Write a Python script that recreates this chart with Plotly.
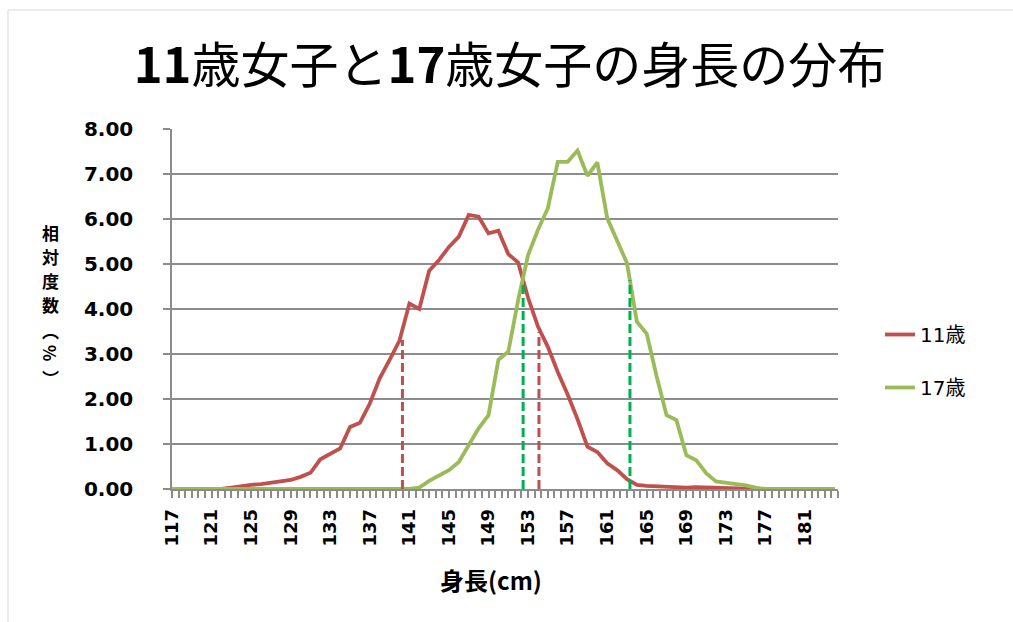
import plotly.graph_objects as go

# Height classes (cm) and relative frequency (%) for each age group
heights = list(range(117, 185))

girls_11 = [
    0, 0, 0, 0, 0, 0, 0.03, 0.07, 0.09, 0.11,          # 117-126
    0.14, 0.16, 0.20, 0.27, 0.36, 0.66, 0.78, 0.90, 1.38, 1.47,  # 127-136
    1.90, 2.46, 2.87, 3.30, 4.12, 4.00, 4.85, 5.09, 5.38, 5.61,  # 137-146
    6.09, 6.05, 5.68, 5.74, 5.22, 5.03, 4.25, 3.61, 3.16, 2.60,  # 147-156
    2.10, 1.55, 0.94, 0.82, 0.57, 0.42, 0.22, 0.09, 0.07, 0.06,  # 157-166
    0.03, 0.04, 0.03, 0.04, 0.03, 0.02, 0.02, 0.01, 0.01, 0,     # 167-176
    0, 0, 0, 0, 0, 0, 0, 0,                                       # 177-184
]

girls_17 = [
    0, 0, 0, 0, 0, 0, 0, 0, 0, 0,                       # 117-126
    0, 0, 0, 0, 0, 0, 0, 0, 0, 0,                       # 127-136
    0, 0, 0, 0, 0, 0.03, 0.18, 0.30, 0.42, 0.60,        # 137-146
    0.98, 1.35, 1.64, 2.87, 3.05, 4.20, 5.20, 5.76, 6.24, 7.27,  # 147-156
    7.27, 7.52, 6.96, 7.26, 6.02, 5.53, 5.02, 3.72, 3.45, 2.50,  # 157-166
    1.64, 1.53, 0.75, 0.64, 0.35, 0.17, 0.14, 0.12, 0.08, 0.03,  # 167-176
    0, 0, 0, 0, 0, 0, 0, 0,                                       # 177-184
]

# Mean ± SD markers (height, curve value at that height)
sd_11_x = [140.3, 154.1]
sd_11_y = [3.31, 3.49]
sd_17_x = [152.5, 163.3]
sd_17_y = [4.60, 4.64]

x_label_values = list(range(117, 182, 4))
minor_step = 2 / 3

RED = "#C0504D"
GREEN = "#9BBB59"
DASH_RED = "#C0504D"
DASH_GREEN = "#00B050"
GRID = "#8C8C8C"

# Plot-area box in pixels
PL, PR, PT, PB = 172, 838, 129, 489
PW, PH = PR - PL, PB - PT


def px_x(px):
    return (px - PL) / PW


def px_y(py):
    return (PB - py) / PH


fig = go.Figure()

fig.add_trace(go.Scatter(x=heights, y=girls_11, mode="lines", name="11歳",
                         legendgroup="a", line=dict(color=RED, width=3.8)))
fig.add_trace(go.Scatter(x=heights, y=girls_17, mode="lines", name="17歳",
                         legendgroup="b", line=dict(color=GREEN, width=3.8)))

for xs, ys, col in ((sd_11_x, sd_11_y, DASH_RED), (sd_17_x, sd_17_y, DASH_GREEN)):
    for xv, yv in zip(xs, ys):
        fig.add_trace(go.Scatter(x=[xv, xv], y=[0, yv], mode="lines", showlegend=False,
                                 hoverinfo="skip",
                                 line=dict(color=col, width=3, dash="9px,4px")))

fig.update_layout(
    width=1013, height=622,
    margin=dict(l=PL, r=1013 - PR, t=PT, b=622 - PB),
    paper_bgcolor="white", plot_bgcolor="white",
    title=dict(
        text="<b>11</b>歳女子と<b>17</b>歳女子の身長の分布",
        font=dict(family="Noto Sans CJK JP", size=49, color="black"),
        xref="container", x=510 / 1013, xanchor="center",
        yref="container", y=1 - 66 / 622, yanchor="middle",
    ),
    legend=dict(
        x=px_x(880), y=px_y(361), xanchor="left", yanchor="middle",
        font=dict(family="DejaVu Sans, Noto Sans CJK JP", size=20, color="black"),
        tracegroupgap=24,
        bgcolor="rgba(0,0,0,0)",
    ),
    showlegend=True,
)

fig.update_xaxes(
    range=[117, 117 + 101 * minor_step],
    tickmode="array",
    tickvals=x_label_values,
    ticktext=[str(v) for v in x_label_values],
    tickangle=-90,
    ticks="outside", ticklen=7, tickwidth=1.5, tickcolor=GRID,
    minor=dict(ticks="outside", tick0=117, dtick=minor_step, ticklen=7,
               tickwidth=1.5, tickcolor=GRID, showgrid=False),
    showgrid=False, zeroline=False,
    showline=True, linecolor=GRID, linewidth=1.5,
    ticklabelstandoff=4,
    tickfont=dict(family="DejaVu Sans", size=18, color="black", weight="bold"),
)

fig.update_yaxes(
    range=[0, 8], dtick=1, tickformat=".2f",
    ticks="outside", ticklen=7, tickwidth=1.5, tickcolor=GRID,
    showgrid=True, gridcolor=GRID, gridwidth=1.5,
    zeroline=False, showline=True, linecolor=GRID, linewidth=1.5,
    ticklabelstandoff=26,
    tickfont=dict(family="DejaVu Sans", size=20, color="black", weight="bold"),
)

# X-axis title
fig.add_annotation(
    text="<b>身長(cm)</b>", xref="paper", yref="paper",
    x=px_x(491), y=px_y(579),
    xanchor="center", yanchor="middle", showarrow=False,
    font=dict(family="Noto Sans CJK JP", size=24, color="black"),
)

# Y-axis title, stacked one character per line; % turned sideways
y_title_chars = ["相", "対", "度", "数", "︵", "%", "︶"]
y_title_rows = [232, 256, 280, 304, 330, 353, 377]
for ch, row in zip(y_title_chars, y_title_rows):
    fig.add_annotation(
        text="<b>" + ch + "</b>", xref="paper", yref="paper",
        x=px_x(51), y=px_y(row), xanchor="center", yanchor="middle",
        showarrow=False, textangle=90 if ch == "%" else 0,
        font=dict(family="Noto Sans CJK JP", size=17, color="black"),
    )

# Chart-area frame
fig.add_shape(type="line", xref="paper", yref="paper",
              x0=px_x(8), x1=px_x(8), y0=px_y(622), y1=px_y(10),
              line=dict(color="#D9D9D9", width=1))
fig.add_shape(type="line", xref="paper", yref="paper",
              x0=px_x(8), x1=px_x(1013), y0=px_y(10), y1=px_y(10),
              line=dict(color="#D9D9D9", width=1))

fig.write_html("out.html")
